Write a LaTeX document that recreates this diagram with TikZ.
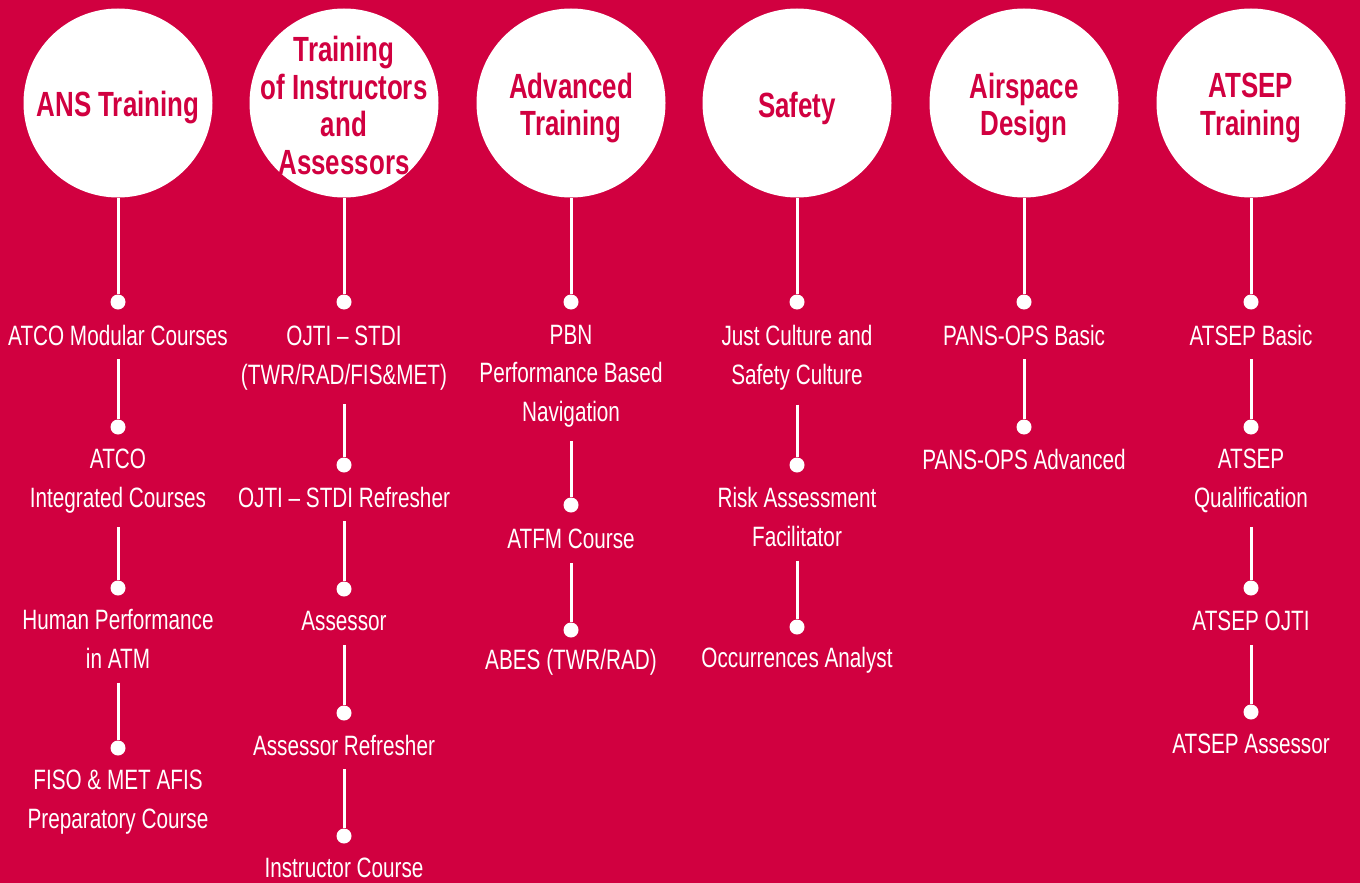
\documentclass[tikz,border=0pt]{standalone}
\usepackage{fontspec}
\setmainfont[FakeStretch=0.74]{Liberation Sans}
\usepackage{tikz}
\usepackage{xcolor}
\definecolor{crimson}{RGB}{209,0,64}

\tikzset{
  hubtext/.style={text=crimson, align=center, yshift=-5pt,
    font=\fontsize{35}{37.5}\selectfont\bfseries},
  disc/.style={circle, fill=white, minimum size=189pt, inner sep=0pt},
  hub/.style={disc, label={[hubtext]center:#1}},
  dot/.style={circle, fill=white, minimum size=15pt, inner sep=0pt},
  item/.style={text=white, align=center, inner sep=14pt,
    font=\fontsize{28}{38.5}\selectfont},
  link/.style={white, line width=3pt}
}

\begin{document}
\begin{tikzpicture}[x=1pt,y=-1pt]
  \fill[crimson] (0,0) rectangle (1360,883);
  \useasboundingbox (0,0) rectangle (1360,883);

  % circles
  \node[hub={ANS Training}] (hub1) at (118,103) {};
  \node[disc, label={[hubtext,yshift=2.5pt]center:{Training\\of Instructors\\and\\Assessors}}] (hub2) at (344,103) {};
  \node[hub={Advanced\\Training}] (hub3) at (571,103) {};
  \node[hub={Safety}] (hub4) at (797,103) {};
  \node[hub={Airspace\\Design}] (hub5) at (1024,103) {};
  \node[hub={ATSEP\\Training}] (hub6) at (1251,103) {};

  % ANS Training
  \node[dot] (d11) at (118,302) {};
  \node[item] (c11) at (118,335) {ATCO Modular Courses};
  \node[dot] (d12) at (118,427) {};
  \node[item] (c12) at (118,481) {ATCO\\Integrated Courses};
  \node[dot] (d13) at (118,588) {};
  \node[item] (c13) at (118,639) {Human Performance\\in ATM};
  \node[dot] (d14) at (118,748) {};
  \node[item] (c14) at (118,802) {FISO \& MET AFIS\\Preparatory Course};
  \draw[link] (hub1) -- (d11);
  \draw[link] (c11) -- (d12);
  \draw[link] (c12) -- (d13);
  \draw[link] (c13) -- (d14);

  % Training of Instructors and Assessors
  \node[dot] (d21) at (344,302) {};
  \node[item] (c21) at (344,358) {OJTI -- STDI\\(TWR/RAD/FIS\&MET)};
  \node[dot] (d22) at (344,465) {};
  \node[item] (c22) at (344,497) {OJTI -- STDI Refresher};
  \node[dot] (d23) at (344,589) {};
  \node[item] (c23) at (344,621) {Assessor};
  \node[dot] (d24) at (344,713) {};
  \node[item] (c24) at (344,745) {Assessor Refresher};
  \node[dot] (d25) at (344,836) {};
  \node[item] (c25) at (344,868) {Instructor Course};
  \draw[link] (hub2) -- (d21);
  \draw[link] (c21) -- (d22);
  \draw[link] (c22) -- (d23);
  \draw[link] (c23) -- (d24);
  \draw[link] (c24) -- (d25);

  % Advanced Training
  \node[dot] (d31) at (571,302) {};
  \node[item] (c31) at (571,376) {PBN\\Performance Based\\Navigation};
  \node[dot] (d32) at (571,505) {};
  \node[item] (c32) at (571,539) {ATFM Course};
  \node[dot] (d33) at (571,630) {};
  \node[item] (c33) at (571,662) {ABES (TWR/RAD)};
  \draw[link] (hub3) -- (d31);
  \draw[link] (c31) -- (d32);
  \draw[link] (c32) -- (d33);

  % Safety
  \node[dot] (d41) at (797,302) {};
  \node[item] (c41) at (797,358) {Just Culture and\\Safety Culture};
  \node[dot] (d42) at (797,465) {};
  \node[item] (c42) at (797,517) {Risk Assessment\\Facilitator};
  \node[dot] (d43) at (797,627) {};
  \node[item] (c43) at (797,660) {Occurrences Analyst};
  \draw[link] (hub4) -- (d41);
  \draw[link] (c41) -- (d42);
  \draw[link] (c42) -- (d43);

  % Airspace Design
  \node[dot] (d51) at (1024,302) {};
  \node[item] (c51) at (1024,335) {PANS-OPS Basic};
  \node[dot] (d52) at (1024,427) {};
  \node[item] (c52) at (1024,459) {PANS-OPS Advanced};
  \draw[link] (hub5) -- (d51);
  \draw[link] (c51) -- (d52);

  % ATSEP Training
  \node[dot] (d61) at (1251,302) {};
  \node[item] (c61) at (1251,335) {ATSEP Basic};
  \node[dot] (d62) at (1251,427) {};
  \node[item] (c62) at (1251,481) {ATSEP\\Qualification};
  \node[dot] (d63) at (1251,588) {};
  \node[item] (c63) at (1251,621) {ATSEP OJTI};
  \node[dot] (d64) at (1251,712) {};
  \node[item] (c64) at (1251,744) {ATSEP Assessor};
  \draw[link] (hub6) -- (d61);
  \draw[link] (c61) -- (d62);
  \draw[link] (c62) -- (d63);
  \draw[link] (c63) -- (d64);
\end{tikzpicture}
\end{document}
